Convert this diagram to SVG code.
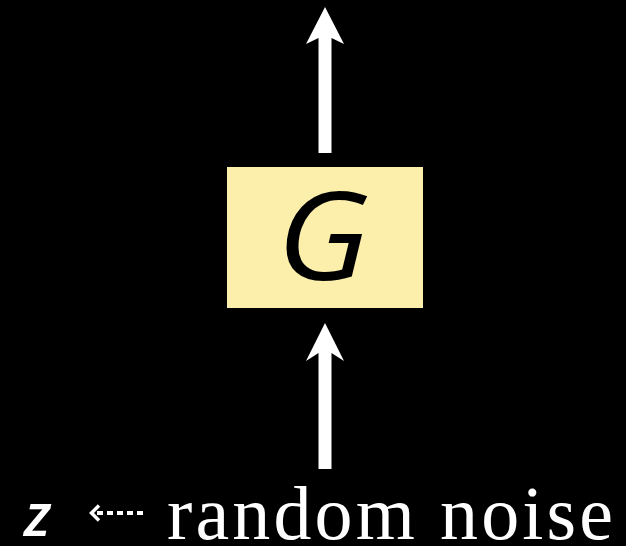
<svg xmlns="http://www.w3.org/2000/svg" width="626" height="546" viewBox="0 0 626 546">
<style>
.arrow{fill:#ffffff}
.lbl{fill:#ffffff}
</style>
<rect width="626" height="546" fill="#000000"/>
<g id="connectors">
<path class="arrow" d="M318.5,469 L318.5,353 L306,361 L325,323 L344,361 L331.5,353 L331.5,469 Z"/>
<path class="arrow" d="M318.5,153 L318.5,38 L306,44 L325,7 L344,44 L331.5,38 L331.5,153 Z"/>
</g>
<g id="node-G">
<rect x="227" y="167" width="196" height="141" fill="#fcefac"/>
<text transform="translate(323,280) scale(1.12,1)" text-anchor="middle" font-family="Open Sans, sans-serif" font-style="italic" font-weight="370" font-size="122" fill="#000000">G</text>
</g>
<g id="label-z">
<text x="24" y="536" font-family="Open Sans, sans-serif" font-style="italic" font-weight="600" font-size="60" class="lbl">z</text>
</g>
<g id="dashed-arrow">
<path d="M99,505.5 L91.5,513 L99,520.5" fill="none" stroke="#ffffff" stroke-width="3.5"/>
<line x1="93" y1="513" x2="143" y2="513" stroke="#ffffff" stroke-width="4" stroke-dasharray="6 4" stroke-dashoffset="-4"/>
</g>
<g id="label-noise">
<text x="167" y="539" font-family="Liberation Serif, serif" font-size="76" textLength="446" class="lbl">random noise</text>
</g>
</svg>
